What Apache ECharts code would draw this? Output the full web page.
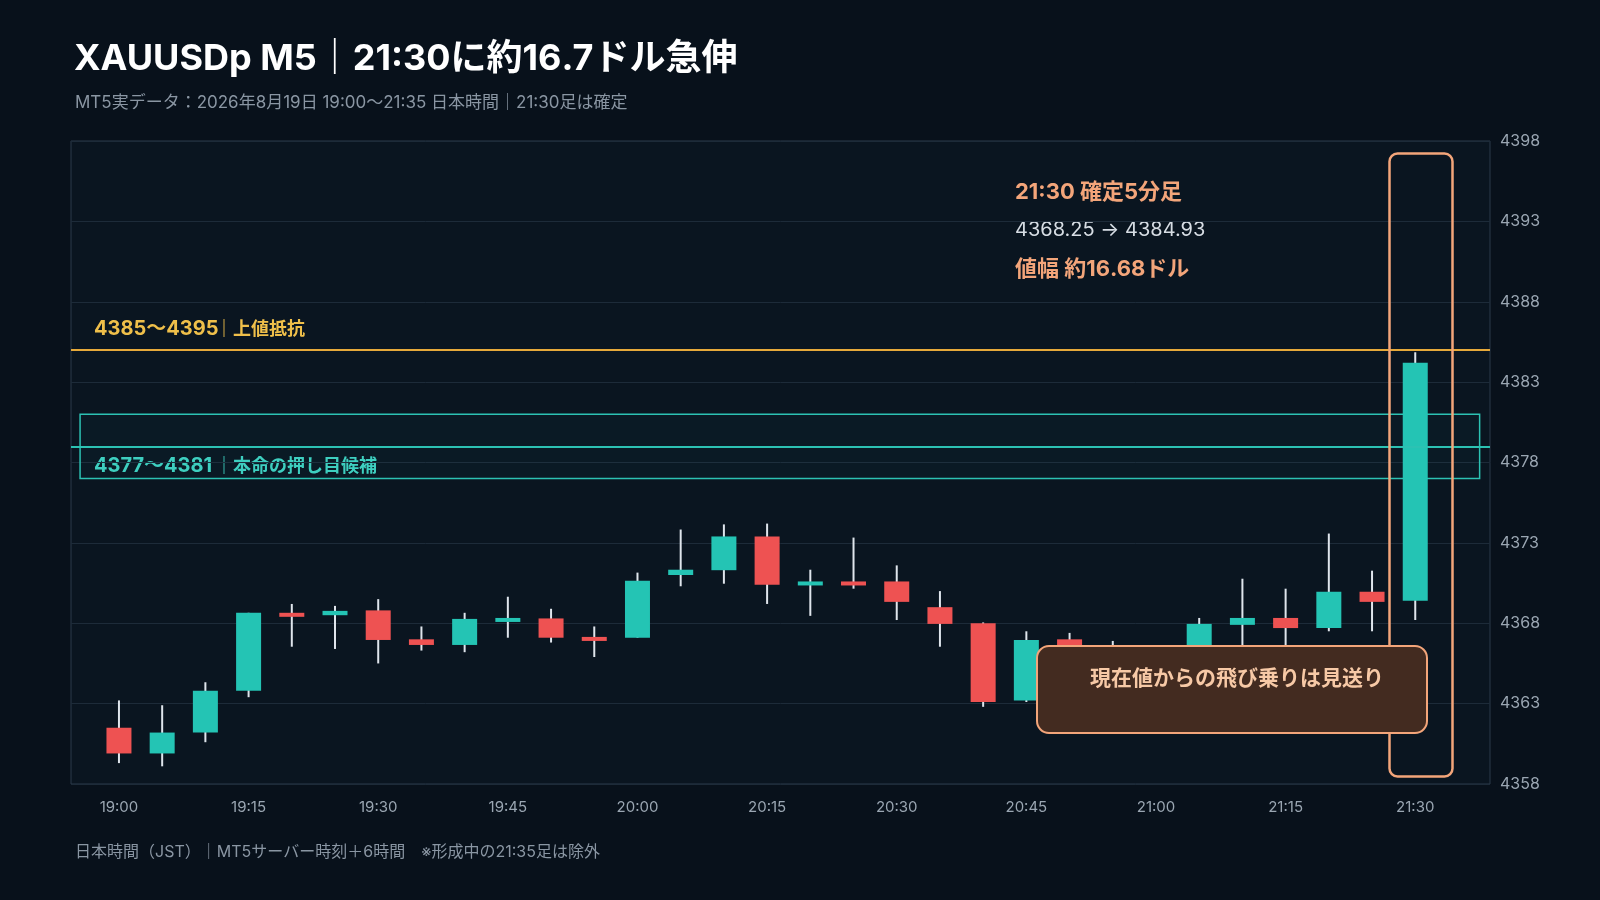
<!DOCTYPE html>
<html><head><meta charset="utf-8">
<script src="https://cdn.jsdelivr.net/npm/echarts@6/dist/echarts.min.js"></script>
<style>html,body{margin:0;background:#08111b;}#c{width:1600px;height:900px;}</style>
</head><body><div id="c"></div>
<script>
const times = ['19:00','19:05','19:10','19:15','19:20','19:25','19:30','19:35','19:40','19:45','19:50','19:55','20:00','20:05','20:10','20:15','20:20','20:25','20:30','20:35','20:40','20:45','20:50','20:55','21:00','21:05','21:10','21:15','21:20','21:25','21:30'];
const opens  = [4361.5,4359.9,4361.2,4363.8,4368.65,4368.5,4368.8,4367.0,4366.65,4368.1,4368.3,4367.15,4367.1,4371.0,4371.3,4373.4,4370.4,4370.6,4370.6,4369.0,4368.0,4363.2,4367.0,4366.6,4365.6,4366.2,4367.9,4368.33,4367.7,4369.96,4369.4];
const closes = [4359.9,4361.2,4363.8,4368.65,4368.4,4368.77,4366.96,4366.65,4368.27,4368.33,4367.1,4366.9,4370.65,4371.33,4373.4,4370.4,4370.6,4370.35,4369.33,4367.96,4363.1,4366.96,4366.6,4365.6,4366.2,4367.96,4368.33,4367.7,4369.96,4369.33,4384.2];
const lows   = [4359.3,4359.1,4360.6,4363.4,4366.54,4366.4,4365.5,4366.3,4366.2,4367.1,4366.8,4365.9,4367.1,4370.3,4370.46,4369.2,4368.46,4370.15,4368.2,4366.54,4362.8,4363.1,4365.2,4364.9,4365.0,4365.8,4366.0,4366.0,4367.5,4367.5,4368.2];
const highs  = [4363.2,4362.9,4364.33,4368.65,4369.2,4369.08,4369.5,4367.8,4368.65,4369.65,4368.9,4367.8,4371.15,4373.83,4374.15,4374.2,4371.33,4373.33,4371.6,4370.0,4368.05,4367.5,4367.4,4366.9,4366.5,4368.33,4370.77,4370.15,4373.58,4371.27,4384.86];
const yTicks = [4358,4363,4368,4373,4378,4383,4388,4393,4398];
const xTickIdx = [0,3,6,9,12,15,18,21,24,27,30];

const data = times.map((t,i)=>[i,opens[i],closes[i],lows[i],highs[i]]);
const font = 'Inter, "Noto Sans CJK JP", sans-serif';
const chart = echarts.init(document.getElementById('c'));
chart.setOption({
  backgroundColor:'#08111b',
  animation:false,
  textStyle:{fontFamily:font},
  title:[
    {text:'XAUUSDp M5｜21:30に約16.7ドル急伸',left:69,top:36,textStyle:{color:'#ffffff',fontSize:36,fontWeight:'bold',fontFamily:font}},
    {text:'MT5実データ：2026年8月19日 19:00〜21:35 日本時間｜21:30足は確定',left:70,top:89,textStyle:{color:'#8a96a3',fontSize:17,fontWeight:'normal',fontFamily:font}},
    {text:'日本時間（JST）｜MT5サーバー時刻＋6時間　※形成中の21:35足は除外',left:70,top:839,textStyle:{color:'#8a96a3',fontSize:16,fontWeight:'normal',fontFamily:font}}
  ],
  grid:{left:71,right:110,top:141,bottom:116,show:true,backgroundColor:'#0a1520',borderColor:'#2a3a4a',borderWidth:1},
  xAxis:{type:'value',min:-1.11,max:31.73,
    axisLine:{show:false},axisTick:{show:false},splitLine:{show:false},
    axisLabel:{customValues:xTickIdx,color:'#9aa6b2',fontSize:15,margin:16,formatter:v=>times[Math.round(v)]}},
  yAxis:{type:'value',position:'right',min:4358,max:4398,interval:5,
    axisLine:{show:false},axisTick:{show:false},
    splitLine:{lineStyle:{color:'#1d2b39',width:1}},
    axisLabel:{color:'#9aa6b2',fontSize:16,margin:10,formatter:v=>String(v)}},
  series:[{
    type:'custom',
    data:data,
    encode:{x:0,y:[1,2,3,4]},
    renderItem:(params,api)=>{
      const x=api.value(0),o=api.value(1),c=api.value(2),l=api.value(3),h=api.value(4);
      const pl=api.coord([x,l]),ph=api.coord([x,h]),po=api.coord([x,o]),pc=api.coord([x,c]);
      const w=25;
      const up=c>=o;
      const top=Math.min(po[1],pc[1]);
      const hgt=Math.max(Math.abs(po[1]-pc[1]),4);
      return {type:'group',children:[
        {type:'line',shape:{x1:pl[0],y1:pl[1],x2:ph[0],y2:ph[1]},style:{stroke:'#dfe5ec',lineWidth:2}},
        {type:'rect',shape:{x:po[0]-w/2,y:top,width:w,height:hgt},style:{fill:up?'#24c4b4':'#ee5252'}}
      ]};
    },
    markLine:{symbol:'none',silent:true,label:{show:false},data:[
      {yAxis:4385,lineStyle:{color:'#e6a93a',width:2,type:'solid'}},
      {yAxis:4379,lineStyle:{color:'#2cc2b3',width:2,type:'solid'}}
    ]},
    markArea:{silent:true,data:[[
      {coord:[-0.9,4381],itemStyle:{color:'rgba(36,196,180,0.03)',borderColor:'#2cc2b3',borderWidth:1.5}},
      {coord:[31.49,4377]}
    ]]}
  }],
  graphic:[
    {type:'text',left:94,top:319,style:{text:'4385〜4395',fill:'#efbf4a',fontSize:20,fontWeight:'bold',fontFamily:font}},
    {type:'text',left:215,top:321,style:{text:'｜上値抵抗',fill:'#efbf4a',fontSize:18,fontWeight:'bold',fontFamily:font}},
    {type:'text',left:94,top:456,style:{text:'4377〜4381',fill:'#3fd0c0',fontSize:20,fontWeight:'bold',fontFamily:font}},
    {type:'text',left:215,top:458,style:{text:'｜本命の押し目候補',fill:'#3fd0c0',fontSize:18,fontWeight:'bold',fontFamily:font}},
    {type:'text',left:1015,top:181,style:{text:'21:30 確定5分足',fill:'#f3a57a',fontSize:22,fontWeight:'bold',fontFamily:font}},
    {type:'text',left:1015,top:220,style:{text:'4368.25 → 4384.93',fill:'#d7dde4',fontSize:20,fontFamily:font}},
    {type:'text',left:1015,top:258,style:{text:'値幅 約16.68ドル',fill:'#f3a57a',fontSize:22,fontWeight:'bold',fontFamily:font}},
    {type:'rect',left:1387,top:151,shape:{width:63,height:623,r:8},style:{fill:'none',stroke:'#f3a57a',lineWidth:2.5},z:50},
    {type:'rect',left:1036,top:645,shape:{width:390,height:87,r:12},style:{fill:'#432b20',stroke:'#f3a57a',lineWidth:2},z:60},
    {type:'text',left:1090,top:668,style:{text:'現在値からの飛び乗りは見送り',fill:'#f7c9a6',fontSize:21,fontWeight:'bold',fontFamily:font},z:61}
  ]
});
</script></body></html>
